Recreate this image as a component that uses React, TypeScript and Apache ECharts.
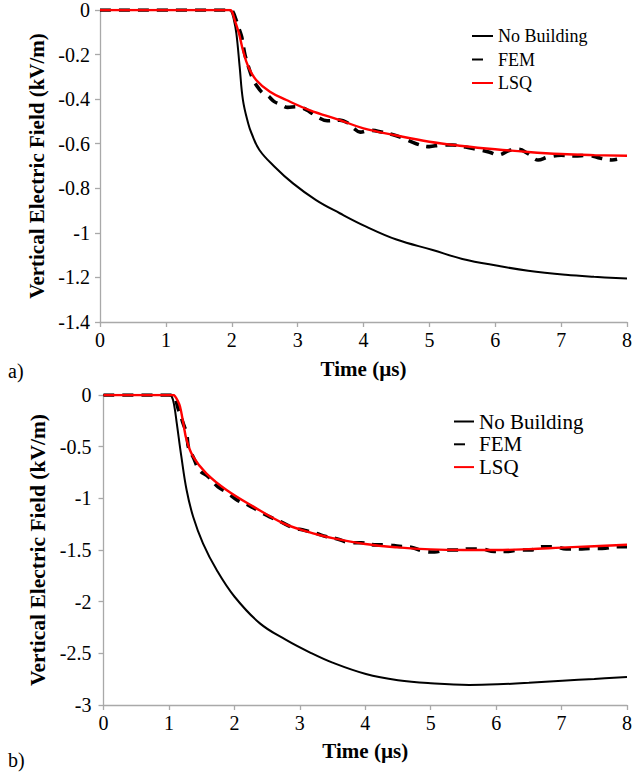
import React, { useEffect, useRef } from "react";
import * as echarts from "echarts";

// ---- Panel a) ----
const timeNoBuildingA = [0, 1.95, 1.99, 2.03, 2.07, 2.12, 2.17, 2.25, 2.3, 2.42, 2.65, 2.93, 3.28, 3.64, 4.04, 4.5, 5.05, 5.5, 6.06, 6.5, 7.07, 7.5, 8];
const fieldNoBuildingA = [0, 0, -0.005, -0.04, -0.105, -0.254, -0.404, -0.509, -0.553, -0.628, -0.703, -0.778, -0.853, -0.912, -0.972, -1.03, -1.077, -1.117, -1.149, -1.17, -1.188, -1.197, -1.205];

const timeFemA = [0, 1.98, 2.02, 2.06, 2.1, 2.15, 2.2, 2.26, 2.32, 2.38, 2.46, 2.55, 2.64, 2.75, 2.85, 2.98, 3.08, 3.18, 3.3, 3.45, 3.64, 3.75, 3.85, 3.95, 4.1, 4.27, 4.45, 4.6, 4.8, 5.0, 5.18, 5.35, 5.55, 5.7, 5.9, 6.05, 6.2, 6.35, 6.5, 6.65, 6.8, 7.0, 7.2, 7.4, 7.6, 7.77, 7.85];
const fieldFemA = [0, 0, -0.01, -0.04, -0.075, -0.12, -0.2, -0.26, -0.31, -0.34, -0.37, -0.385, -0.41, -0.425, -0.437, -0.434, -0.44, -0.456, -0.48, -0.497, -0.494, -0.505, -0.53, -0.548, -0.54, -0.547, -0.56, -0.575, -0.6, -0.613, -0.606, -0.606, -0.615, -0.624, -0.637, -0.65, -0.632, -0.625, -0.645, -0.673, -0.66, -0.652, -0.655, -0.652, -0.665, -0.673, -0.67];

const timeLsqA = [0, 1.97, 2.0, 2.045, 2.11, 2.17, 2.25, 2.37, 2.58, 2.83, 3.18, 3.64, 4.0, 4.5, 5.0, 5.5, 6.0, 6.5, 7.0, 7.5, 8];
const fieldLsqA = [0, 0, -0.005, -0.045, -0.105, -0.18, -0.254, -0.314, -0.367, -0.404, -0.449, -0.494, -0.531, -0.563, -0.591, -0.61, -0.625, -0.637, -0.646, -0.651, -0.654];

// ---- Panel b) ----
const timeNoBuildingB = [0, 1.0, 1.04, 1.08, 1.12, 1.19, 1.27, 1.37, 1.52, 1.73, 2.0, 2.39, 2.79, 3.15, 3.5, 4.01, 4.5, 5.0, 5.59, 6.02, 6.5, 7.01, 7.5, 8];
const fieldNoBuildingB = [0, 0, -0.01, -0.1, -0.274, -0.597, -0.919, -1.178, -1.435, -1.694, -1.95, -2.21, -2.37, -2.49, -2.59, -2.7, -2.76, -2.79, -2.806, -2.8, -2.785, -2.765, -2.748, -2.73];

const timeFemB = [0, 1.06, 1.1, 1.14, 1.18, 1.22, 1.27, 1.3, 1.37, 1.47, 1.6, 1.75, 1.88, 2.05, 2.2, 2.39, 2.54, 2.72, 2.88, 3.07, 3.25, 3.4, 3.56, 3.79, 3.94, 4.14, 4.32, 4.52, 4.68, 4.88, 5.06, 5.24, 5.41, 5.59, 5.77, 5.97, 6.17, 6.35, 6.53, 6.7, 6.88, 7.07, 7.27, 7.45, 7.62, 7.85, 8];
const fieldFemB = [0, 0, -0.04, -0.13, -0.2, -0.28, -0.37, -0.51, -0.6, -0.73, -0.79, -0.89, -0.94, -1.02, -1.06, -1.13, -1.18, -1.23, -1.28, -1.31, -1.34, -1.37, -1.39, -1.43, -1.43, -1.45, -1.45, -1.465, -1.47, -1.51, -1.52, -1.5, -1.5, -1.49, -1.49, -1.515, -1.515, -1.5, -1.5, -1.468, -1.468, -1.49, -1.49, -1.485, -1.485, -1.468, -1.468];

const timeLsqB = [0, 1.06, 1.09, 1.13, 1.17, 1.22, 1.27, 1.37, 1.57, 1.88, 2.29, 2.74, 3.0, 3.3, 3.5, 4.0, 4.5, 5.0, 5.5, 6.0, 6.5, 7.0, 7.5, 8];
const fieldLsqB = [0, 0, -0.01, -0.05, -0.113, -0.274, -0.435, -0.597, -0.758, -0.919, -1.08, -1.24, -1.3, -1.355, -1.385, -1.442, -1.475, -1.494, -1.5, -1.5, -1.492, -1.477, -1.463, -1.449];

const seriesNames = ["No Building", "FEM", "LSQ"];
const panelLabels = ["a)", "b)"];
const xTitle = "Time (µs)";
const yTitle = "Vertical Electric Field (kV/m)";

const FONT = "Liberation Serif";
const AXIS_GRAY = "#a9a9a9";

function pairs(t: number[], v: number[]) {
  return t.map((x, i) => [x, v[i]]);
}

export default function App() {
  const ref = useRef<HTMLDivElement>(null);

  useEffect(() => {
    if (!ref.current) return;
    const chart = echarts.init(ref.current, null, { renderer: "svg" });

    const xAxis = (gridIndex: number, nameGap: number) => ({
      type: "value",
      gridIndex,
      min: 0,
      max: 8,
      interval: 1,
      name: xTitle,
      nameLocation: "middle",
      nameGap,
      nameTextStyle: { fontFamily: FONT, fontSize: 21, fontWeight: "bold", color: "#000" },
      axisLine: { show: true, onZero: false, lineStyle: { color: AXIS_GRAY, width: 1.3 } },
      axisTick: { show: true, length: 5, lineStyle: { color: AXIS_GRAY, width: 1.3 } },
      axisLabel: { fontFamily: FONT, fontSize: 20, color: "#000", margin: 8 },
      splitLine: { show: false },
    });

    const yAxis = (gridIndex: number, min: number, interval: number, nameGap: number, labelMargin: number, nameSize: number) => ({
      type: "value",
      gridIndex,
      min,
      max: 0,
      interval,
      name: yTitle,
      nameLocation: "middle",
      nameGap,
      nameTextStyle: { fontFamily: FONT, fontSize: nameSize, fontWeight: "bold", color: "#000" },
      axisLine: { show: true, onZero: false, lineStyle: { color: AXIS_GRAY, width: 1.3 } },
      axisTick: { show: true, length: 5, lineStyle: { color: AXIS_GRAY, width: 1.3 } },
      axisLabel: { fontFamily: FONT, fontSize: 20, color: "#000", margin: labelMargin },
      splitLine: { show: false },
    });

    const lineSeries = (name: string, idx: number, data: number[][], style: any) => ({
      type: "line",
      name,
      xAxisIndex: idx,
      yAxisIndex: idx,
      data,
      symbol: "none",
      smooth: 0.4,
      lineStyle: style,
      itemStyle: { color: style.color },
      z: 2,
    });

    const styleNoBuilding = { color: "#000000", width: 2 };
    const styleFem = { color: "#000000", width: 3.6, type: [11, 8], cap: "butt" };
    const styleLsq = { color: "#ff0000", width: 2.4 };

    const legend = (left: number, top: number, lineLen: number, fontSize: number, gap: number) => ({
      orient: "vertical",
      left,
      top,
      padding: 0,
      itemWidth: lineLen,
      itemHeight: 14,
      itemGap: gap,
      selectedMode: false,
      itemStyle: { opacity: 0 },
      textStyle: { fontFamily: FONT, fontSize, color: "#000", lineHeight: fontSize },
      data: [
        { name: seriesNames[0] },
        { name: seriesNames[1], lineStyle: { type: [11, 20] } },
        { name: seriesNames[2] },
      ],
    });

    chart.setOption({
      animation: false,
      backgroundColor: "#ffffff",
      textStyle: { fontFamily: FONT },
      grid: [
        { left: 100, top: 10, width: 528, height: 312 },
        { left: 103.5, top: 395, width: 524.5, height: 310 },
      ],
      xAxis: [xAxis(0, 36), xAxis(1, 35)],
      yAxis: [yAxis(0, -1.4, 0.2, 47, 10, 21), yAxis(1, -3, 0.5, 45, 12, 21.5)],
      legend: [legend(471, 27, 21, 18, 5.5), legend(453, 411, 20, 21, 1.8)],
      graphic: [
        { type: "text", left: 8, top: 361, style: { text: panelLabels[0], fontFamily: FONT, fontSize: 20, fill: "#000" } },
        { type: "text", left: 8, top: 750, style: { text: panelLabels[1], fontFamily: FONT, fontSize: 20, fill: "#000" } },
      ],
      series: [
        lineSeries(seriesNames[0], 0, pairs(timeNoBuildingA, fieldNoBuildingA), styleNoBuilding),
        lineSeries(seriesNames[1], 0, pairs(timeFemA, fieldFemA), styleFem),
        lineSeries(seriesNames[2], 0, pairs(timeLsqA, fieldLsqA), styleLsq),
        lineSeries(seriesNames[0], 1, pairs(timeNoBuildingB, fieldNoBuildingB), styleNoBuilding),
        lineSeries(seriesNames[1], 1, pairs(timeFemB, fieldFemB), styleFem),
        lineSeries(seriesNames[2], 1, pairs(timeLsqB, fieldLsqB), styleLsq),
      ],
    });

    return () => chart.dispose();
  }, []);

  return <div ref={ref} style={{ position: "fixed", left: 0, top: 0, width: 635, height: 773 }} />;
}
